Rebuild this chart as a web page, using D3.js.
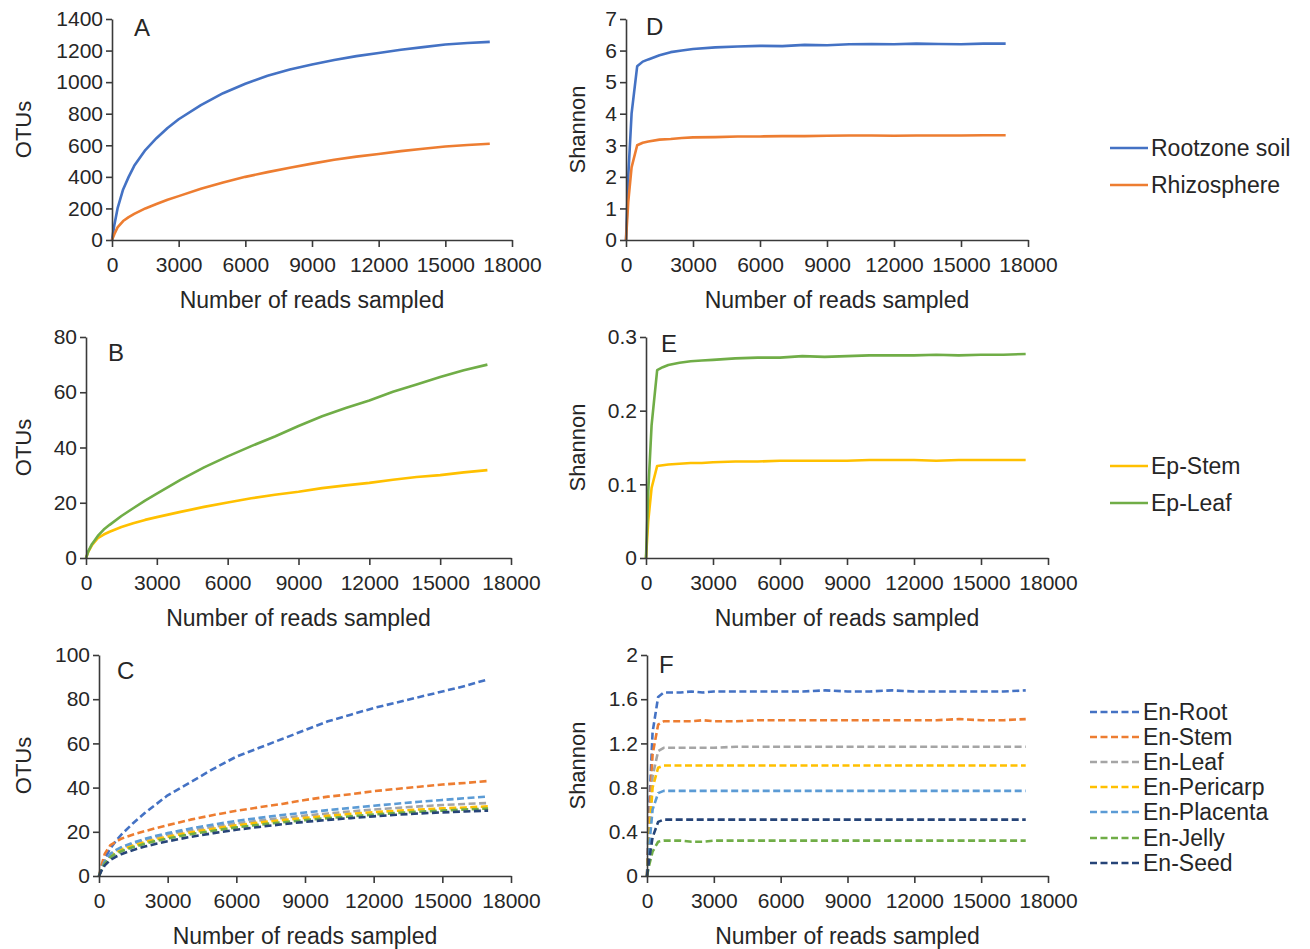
<!DOCTYPE html>
<html><head><meta charset="utf-8">
<script src="https://cdn.jsdelivr.net/npm/d3@7"></script>
<style>
body{margin:0;background:#fff;}
text{font-family:"Liberation Sans",Arial,sans-serif;fill:#262626;}
</style></head>
<body><svg id="chart" width="1310" height="949"></svg>
<script>
// ---- data ----
const reads = [0,100,250,500,750,1000,1500,2000,2500,3000,4000,5000,6000,7000,8000,9000,10000,11000,12000,13000,14000,15000,16000,17000];
const xTicks = [0,3000,6000,9000,12000,15000,18000];

// Panel A (OTUs)
const otuRootzone = [0,90,200,320,400,470,570,645,710,765,855,930,990,1040,1080,1112,1140,1165,1185,1205,1222,1238,1248,1255];
const otuRhizosphere = [0,35,80,120,145,165,200,228,255,278,324,364,400,430,458,484,508,528,545,563,578,592,602,610];
// Panel D (Shannon)
const shRootzone = [0,2.0,4.0,5.5,5.65,5.72,5.85,5.95,6.0,6.05,6.1,6.13,6.15,6.14,6.18,6.17,6.2,6.21,6.2,6.22,6.21,6.2,6.22,6.22];
const shRhizosphere = [0,1.2,2.3,3.0,3.08,3.12,3.18,3.2,3.23,3.25,3.26,3.28,3.28,3.29,3.29,3.3,3.31,3.31,3.3,3.31,3.31,3.31,3.32,3.32];
// Panel B (OTUs)
const otuEpStem = [0,2.3,4.6,7.2,8.5,9.5,11.2,12.6,13.8,14.8,16.7,18.5,20.1,21.6,22.9,24.0,25.3,26.3,27.2,28.3,29.3,30.0,31.0,31.8];
const otuEpLeaf = [0,2.5,5,8,10.3,12,15.2,18,20.8,23.3,28.3,32.8,36.8,40.5,44,47.8,51.3,54.3,57,60.2,62.8,65.5,68,70];
// Panel E (Shannon)
const shEpStem = [0,0.05,0.095,0.125,0.126,0.127,0.128,0.129,0.129,0.13,0.131,0.131,0.132,0.132,0.132,0.132,0.133,0.133,0.133,0.132,0.133,0.133,0.133,0.133];
const shEpLeaf = [0,0.09,0.18,0.255,0.259,0.262,0.265,0.267,0.268,0.269,0.271,0.272,0.272,0.274,0.273,0.274,0.275,0.275,0.275,0.276,0.275,0.276,0.276,0.277];
// Panel C (OTUs)
const otuEnRoot = [0,3.5,8,12.5,16,19,24,28.5,32.5,36.5,42.5,48.5,54,58,62,66,70,73,76,78.5,81,83.5,86,89];
const otuEnStem = [0,4.5,10,14,15.5,17,18.8,20.3,21.7,23,25.5,27.6,29.5,31.1,32.6,34.4,35.9,37,38.4,39.4,40.4,41.4,42.1,43];
const otuEnLeaf = [0,3,6.5,10,11.5,12.8,14.6,16.2,17.5,18.7,20.6,22.3,23.8,25.1,26.3,27.3,28.3,29.2,30.1,30.8,31.5,32.1,32.6,33];
const otuEnPericarp = [0,2.8,6,9.2,10.8,12,13.8,15.3,16.6,17.8,19.7,21.4,22.9,24.2,25.3,26.3,27.2,28.1,28.9,29.5,30.1,30.6,31,31.5];
const otuEnPlacenta = [0,3,6.5,10,11.8,13.2,15.1,16.8,18.2,19.4,21.5,23.3,24.9,26.3,27.6,28.7,29.8,30.8,31.8,32.7,33.6,34.4,35.2,36];
const otuEnJelly = [0,2.6,5.6,8.5,10.1,11.3,13.1,14.6,15.9,17,18.9,20.5,22,23.2,24.3,25.3,26.2,27,27.8,28.5,29.1,29.6,30.1,30.5];
const otuEnSeed = [0,2.2,4.8,7.3,8.8,10,11.8,13.3,14.6,15.7,17.7,19.4,20.9,22.2,23.4,24.5,25.4,26.2,27,27.7,28.3,28.8,29.2,29.6];
// Panel F (Shannon)
const shEnRoot = [0,0.6,1.3,1.62,1.66,1.66,1.66,1.67,1.66,1.67,1.67,1.67,1.67,1.67,1.68,1.67,1.67,1.68,1.67,1.67,1.67,1.67,1.67,1.68];
const shEnStem = [0,0.5,1.1,1.37,1.4,1.4,1.4,1.4,1.41,1.4,1.4,1.41,1.41,1.41,1.41,1.41,1.41,1.41,1.41,1.41,1.42,1.41,1.41,1.42];
const shEnLeaf = [0,0.4,0.9,1.13,1.16,1.16,1.16,1.16,1.16,1.16,1.17,1.17,1.17,1.17,1.17,1.17,1.17,1.17,1.17,1.17,1.17,1.17,1.17,1.17];
const shEnPericarp = [0,0.35,0.8,0.98,1.0,1.0,1.0,1.0,1.0,1.0,1.0,1.0,1.0,1.0,1.0,1.0,1.0,1.0,1.0,1.0,1.0,1.0,1.0,1.0];
const shEnPlacenta = [0,0.27,0.6,0.75,0.77,0.77,0.77,0.77,0.77,0.77,0.77,0.77,0.77,0.77,0.77,0.77,0.77,0.77,0.77,0.77,0.77,0.77,0.77,0.77];
const shEnJelly = [0,0.1,0.22,0.31,0.32,0.32,0.32,0.31,0.31,0.32,0.32,0.32,0.32,0.32,0.32,0.32,0.32,0.32,0.32,0.32,0.32,0.32,0.32,0.32];
const shEnSeed = [0,0.15,0.35,0.49,0.51,0.51,0.51,0.51,0.51,0.51,0.51,0.51,0.51,0.51,0.51,0.51,0.51,0.51,0.51,0.51,0.51,0.51,0.51,0.51];

const namesAD = ["Rootzone soil","Rhizosphere"];
const namesBE = ["Ep-Stem","Ep-Leaf"];
const namesCF = ["En-Root","En-Stem","En-Leaf","En-Pericarp","En-Placenta","En-Jelly","En-Seed"];
const colorsAD = ["#4472C4","#ED7D31"];
const colorsBE = ["#FFC000","#70AD47"];
const colorsCF = ["#4472C4","#ED7D31","#A5A5A5","#FFC000","#5B9BD5","#70AD47","#264478"];

const yTicksA = [0,200,400,600,800,1000,1200,1400];
const yTicksB = [0,20,40,60,80];
const yTicksC = [0,20,40,60,80,100];
const yTicksD = [0,1,2,3,4,5,6,7];
const yTicksE = [0,0.1,0.2,0.3];
const yTicksF = [0,0.4,0.8,1.2,1.6,2];

// ---- layout ----
const panels = [
  {id:"A", x0:112, x1:512, y0:19, y1:240, ticks:yTicksA, ytitle:"OTUs", ytx:23, tdx:0, series:[otuRootzone,otuRhizosphere], colors:colorsAD, dash:null, lx:134, ly:36},
  {id:"B", x0:86, x1:511, y0:337, y1:558, ticks:yTicksB, ytitle:"OTUs", ytx:23, tdx:0, series:[otuEpStem,otuEpLeaf], colors:colorsBE, dash:null, lx:108, ly:361},
  {id:"C", x0:99, x1:511, y0:655, y1:876, ticks:yTicksC, ytitle:"OTUs", ytx:23, tdx:0, series:[otuEnRoot,otuEnStem,otuEnLeaf,otuEnPericarp,otuEnPlacenta,otuEnJelly,otuEnSeed], colors:colorsCF, dash:"7,3.5", lx:117, ly:679},
  {id:"D", x0:626, x1:1028, y0:19, y1:240, ticks:yTicksD, ytitle:"Shannon", ytx:577, tdx:10, series:[shRootzone,shRhizosphere], colors:colorsAD, dash:null, lx:646, ly:35,
   legend:{names:namesAD, colors:colorsAD, x:1110, len:38, ys:[148,185]}},
  {id:"E", x0:646, x1:1048, y0:337, y1:558, ticks:yTicksE, ytitle:"Shannon", ytx:577, tdx:0, series:[shEpStem,shEpLeaf], colors:colorsBE, dash:null, lx:661, ly:352,
   legend:{names:namesBE, colors:colorsBE, x:1110, len:38, ys:[466,503]}},
  {id:"F", x0:647, x1:1048, y0:655, y1:876, ticks:yTicksF, ytitle:"Shannon", ytx:577, tdx:0, series:[shEnRoot,shEnStem,shEnLeaf,shEnPericarp,shEnPlacenta,shEnJelly,shEnSeed], colors:colorsCF, dash:"7,3.5", lx:659, ly:673,
   legend:{names:namesCF, colors:colorsCF, x:1090, len:50, ys:[712,737,762,787,812,838,863]}}
];

const svg = d3.select("#chart");
const fmtY = d => d === 0 ? "0" : String(+d.toFixed(1));

panels.forEach(p => {
  const x = d3.scaleLinear().domain([0,18000]).range([p.x0,p.x1]);
  const y = d3.scaleLinear().domain([0,p.ticks[p.ticks.length-1]]).range([p.y1,p.y0]);
  const g = svg.append("g");

  // lines
  const line = d3.line().x((d,i)=>x(reads[i])).y(d=>y(d));
  p.series.forEach((s,i)=>{
    g.append("path").datum(s).attr("d",line)
      .attr("fill","none").attr("stroke",p.colors[i])
      .attr("stroke-width",2.6).attr("stroke-linejoin","round")
      .attr("stroke-dasharray",p.dash);
  });

  // axes
  const xa = g.append("g").attr("transform",`translate(0,${p.y1})`)
    .call(d3.axisBottom(x).tickValues(xTicks).tickFormat(d3.format("d")).tickSizeInner(7).tickSizeOuter(0).tickPadding(10));
  const ya = g.append("g").attr("transform",`translate(${p.x0},0)`)
    .call(d3.axisLeft(y).tickValues(p.ticks).tickFormat(fmtY).tickSizeInner(6).tickSizeOuter(0).tickPadding(3));
  [xa,ya].forEach(a=>{
    a.selectAll("path,line").attr("stroke","#3a3a3a").attr("stroke-width",1.6);
    a.selectAll("text").attr("font-size",21).attr("fill","#262626")
      .style("font-family","'Liberation Sans',Arial,sans-serif");
  });

  // titles
  g.append("text").attr("x",(p.x0+p.x1)/2 + p.tdx).attr("y",p.y1+68)
    .attr("text-anchor","middle").attr("font-size",23).text("Number of reads sampled");
  g.append("text").attr("transform",`translate(${p.ytx+8},${(p.y0+p.y1)/2}) rotate(-90)`)
    .attr("text-anchor","middle").attr("font-size",22).text(p.ytitle);
  g.append("text").attr("x",p.lx).attr("y",p.ly).attr("font-size",24).text(p.id);

  // legend
  if (p.legend) {
    const L = p.legend;
    L.names.forEach((n,i)=>{
      g.append("line").attr("x1",L.x).attr("x2",L.x+L.len).attr("y1",L.ys[i]).attr("y2",L.ys[i])
        .attr("stroke",L.colors[i]).attr("stroke-width",2.6).attr("stroke-dasharray",p.dash);
      g.append("text").attr("x",L.x+L.len+3).attr("y",L.ys[i]).attr("dy","0.35em")
        .attr("font-size",23).text(n);
    });
  }
});
</script></body></html>
